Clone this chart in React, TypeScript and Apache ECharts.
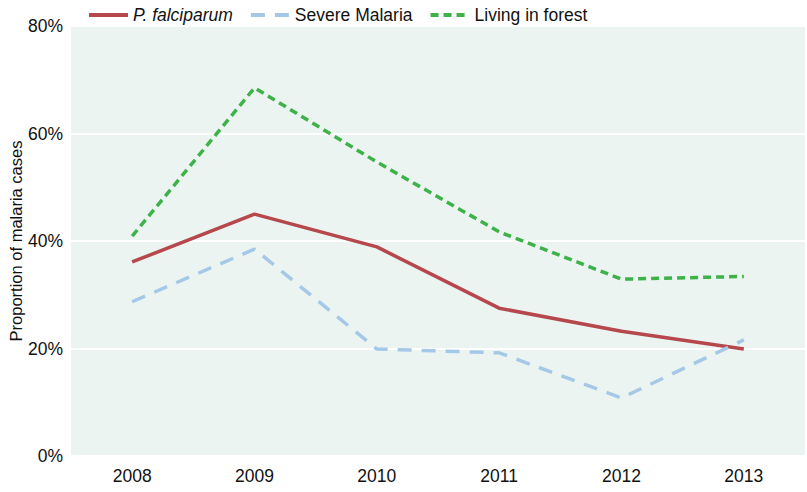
import React, { useEffect, useRef } from "react";
import * as echarts from "echarts";

const years = ["2008", "2009", "2010", "2011", "2012", "2013"];
const falciparum = [36.1, 45.0, 38.9, 27.5, 23.2, 19.9];
const severe = [28.7, 38.5, 19.9, 19.2, 10.8, 21.6];
const forest = [40.9, 68.5, 54.7, 41.7, 32.9, 33.4];

export default function App() {
  const ref = useRef<HTMLDivElement>(null);
  useEffect(() => {
    const chart = echarts.init(ref.current!, null, { renderer: "svg" });
    const font = "Liberation Sans, Arial, sans-serif";
    chart.setOption({
      animation: false,
      textStyle: { fontFamily: font },
      legend: {
        left: 82,
        top: 1,
        itemWidth: 39,
        itemHeight: 20,
        itemGap: 16,
        itemStyle: { opacity: 0 },
        lineStyle: { width: 4 },
        textStyle: { fontSize: 17.5, color: "#111", fontFamily: font },
        data: [
          { name: "P. falciparum", textStyle: { fontStyle: "italic" } },
          { name: "Severe Malaria" },
          { name: "Living in forest" },
        ],
      },
      grid: {
        left: 71,
        right: 2,
        top: 26,
        bottom: 36,
        show: true,
        backgroundColor: "#ebf4f0",
        borderWidth: 0,
        outerBoundsMode: "none",
        containLabel: false,
      },
      xAxis: {
        type: "category",
        data: years,
        boundaryGap: true,
        axisLine: { show: false },
        axisTick: { show: false },
        axisLabel: { fontSize: 17.5, color: "#111", margin: 11 },
        splitLine: { show: false },
      },
      yAxis: {
        type: "value",
        min: 0,
        max: 80,
        interval: 20,
        name: "Proportion of malaria cases",
        nameLocation: "middle",
        nameGap: 47,
        nameMoveOverlap: false,
        nameTextStyle: { fontSize: 16.5, color: "#111" },
        axisLine: { show: false },
        axisTick: { show: false },
        axisLabel: { fontSize: 17.5, color: "#111", margin: 8, formatter: "{value}%" },
        splitLine: { show: true, lineStyle: { color: "#ffffff", width: 2 } },
      },
      series: [
        {
          name: "P. falciparum",
          type: "line",
          data: falciparum,
          symbol: "circle",
          showSymbol: false,
          lineStyle: { color: "#b5474d", width: 3.5 },
          itemStyle: { color: "#b5474d" },
        },
        {
          name: "Severe Malaria",
          type: "line",
          data: severe,
          symbol: "circle",
          showSymbol: false,
          lineStyle: { color: "#a6c8e8", width: 3.5, type: [14, 10] },
          itemStyle: { color: "#a6c8e8" },
        },
        {
          name: "Living in forest",
          type: "line",
          data: forest,
          symbol: "circle",
          showSymbol: false,
          lineStyle: { color: "#3db249", width: 3.5, type: [8, 5] },
          itemStyle: { color: "#3db249" },
        },
      ],
    });
    return () => chart.dispose();
  }, []);
  return <div ref={ref} style={{ width: 807, height: 492, position: "absolute", left: 0, top: 0 }} />;
}
